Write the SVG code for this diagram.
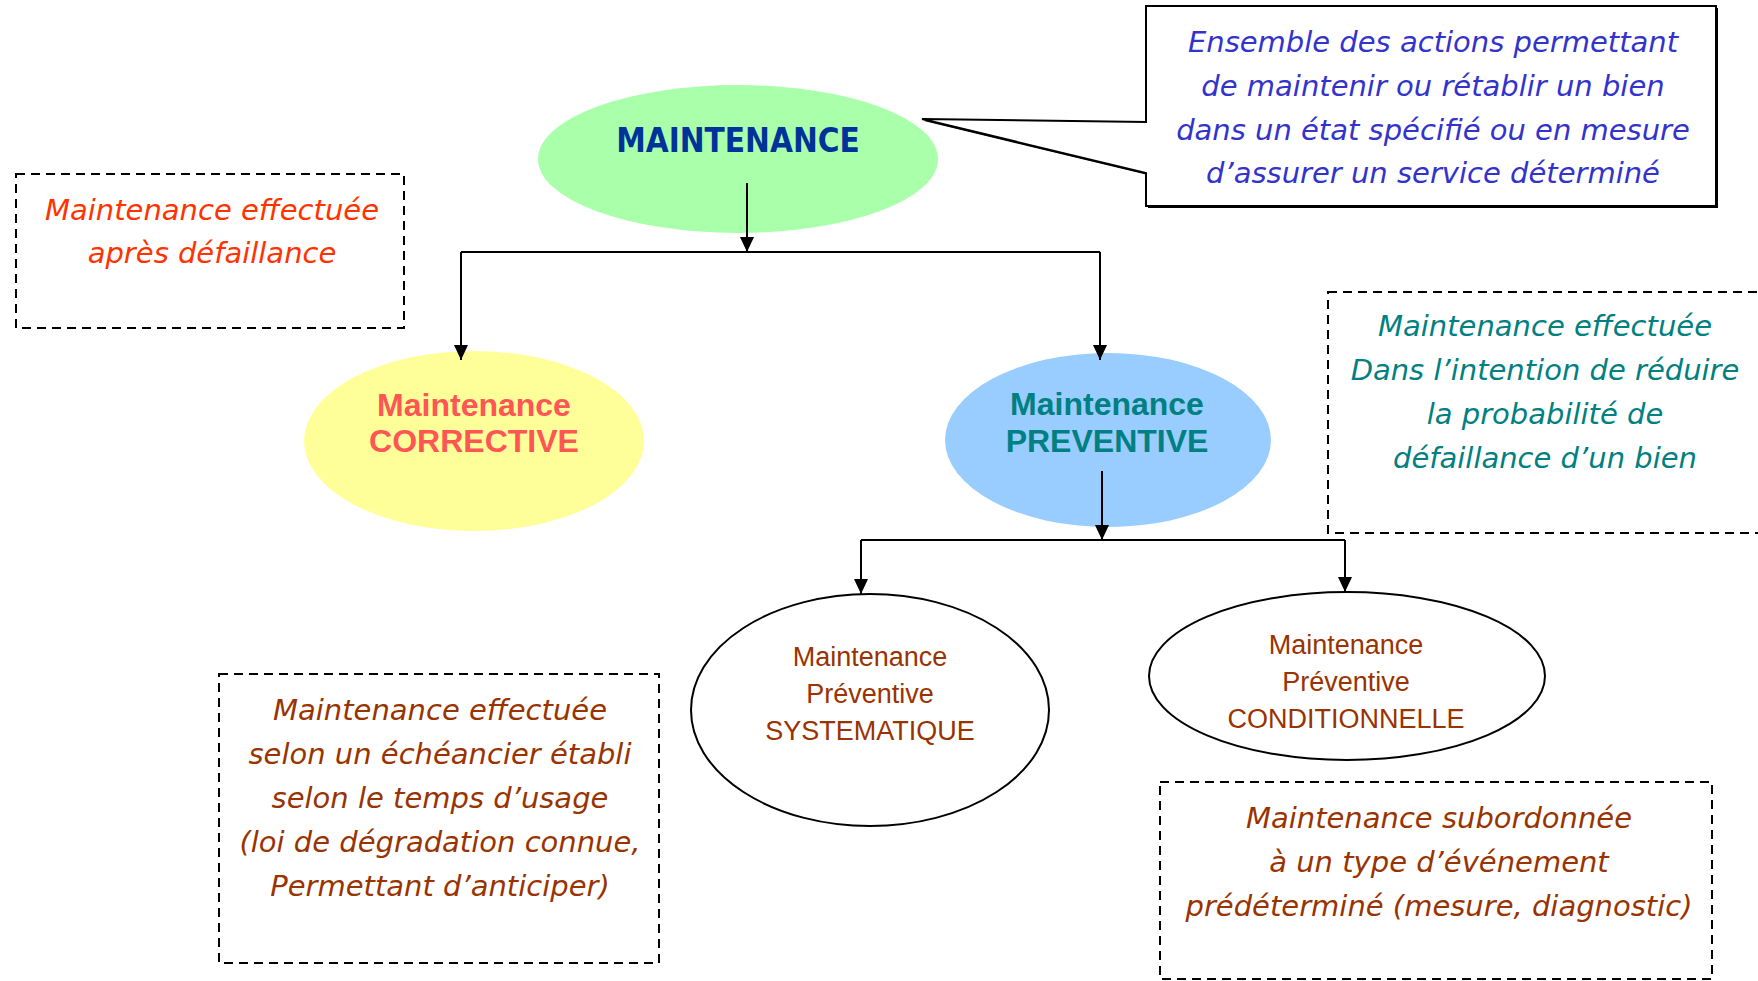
<svg xmlns="http://www.w3.org/2000/svg" width="1758" height="981" viewBox="0 0 1758 981">
<style>
.comic{font-family:"DejaVu Sans","Liberation Sans",sans-serif;font-style:italic;font-size:29px;text-anchor:middle}
.dash{fill:none;stroke:#000;stroke-width:2;stroke-dasharray:9,6}
.conn{fill:none;stroke:#000;stroke-width:2}
.bold{font-family:"Liberation Sans",Arial,sans-serif;font-weight:bold;font-size:32px;text-anchor:middle}
.sub{font-family:"Liberation Sans",Arial,sans-serif;font-size:27px;fill:#993300;text-anchor:middle}
</style>
<defs>
<marker id="arr" markerUnits="userSpaceOnUse" viewBox="0 0 15 14" markerWidth="15" markerHeight="14" refX="15" refY="7" orient="auto">
<path d="M0,0 L15,7 L0,14 z" fill="#000"/>
</marker>
</defs>
<rect width="1758" height="981" fill="#fff"/>

<g id="callout">
<path d="M1148,8 H1718 V208 H1148 V175 L924,121 L1148,124 Z" fill="#000"/>
<path d="M1146,6 H1716 V206 H1146 V173 L922,119 L1146,122 Z" fill="#fff" stroke="#000" stroke-width="2"/>
<g class="comic" fill="#3333cc">
<text x="1433" y="52">Ensemble des actions permettant</text>
<text x="1433" y="96">de maintenir ou rétablir un bien</text>
<text x="1433" y="140">dans un état spécifié ou en mesure</text>
<text x="1433" y="183">d’assurer un service déterminé</text>
</g>
</g>

<g id="maintenance">
<ellipse cx="738" cy="159" rx="200" ry="74" fill="#aaffaa"/>
<text x="738" y="152" font-family="DejaVu Sans Condensed,DejaVu Sans,sans-serif" font-stretch="condensed" font-weight="bold" font-size="33" fill="#003399" text-anchor="middle">MAINTENANCE</text>
</g>

<g id="note-corrective">
<rect x="16" y="174" width="388" height="154" class="dash"/>
<g class="comic" fill="#ff3300">
<text x="212" y="220">Maintenance effectuée</text>
<text x="212" y="263">après défaillance</text>
</g>
</g>

<g id="corrective">
<ellipse cx="474" cy="441" rx="170" ry="90" fill="#ffff99"/>
<text class="bold" x="474" y="416" fill="#ff5555">Maintenance</text>
<text class="bold" x="474" y="452" fill="#ff5555">CORRECTIVE</text>
</g>

<g id="preventive">
<ellipse cx="1108" cy="440" rx="163" ry="87" fill="#99ccff"/>
<text class="bold" x="1107" y="415" fill="#008080">Maintenance</text>
<text class="bold" x="1107" y="452" fill="#008080">PREVENTIVE</text>
</g>

<g id="note-preventive">
<rect x="1328" y="292" width="450" height="241" class="dash"/>
<g class="comic" fill="#008080">
<text x="1545" y="336">Maintenance effectuée</text>
<text x="1545" y="380">Dans l’intention de réduire</text>
<text x="1545" y="424">la probabilité de</text>
<text x="1545" y="468">défaillance d’un bien</text>
</g>
</g>

<g id="systematique">
<ellipse cx="870" cy="710" rx="179" ry="116" fill="#fff" stroke="#000" stroke-width="2"/>
<text class="sub" x="870" y="666">Maintenance</text>
<text class="sub" x="870" y="703">Préventive</text>
<text class="sub" x="870" y="740">SYSTEMATIQUE</text>
</g>

<g id="conditionnelle">
<ellipse cx="1347" cy="676" rx="198" ry="84" fill="#fff" stroke="#000" stroke-width="2"/>
<text class="sub" x="1346" y="654">Maintenance</text>
<text class="sub" x="1346" y="691">Préventive</text>
<text class="sub" x="1346" y="728">CONDITIONNELLE</text>
</g>

<g id="note-systematique">
<rect x="219" y="674" width="440" height="289" class="dash"/>
<g class="comic" fill="#993300">
<text x="440" y="720">Maintenance effectuée</text>
<text x="440" y="764">selon un échéancier établi</text>
<text x="440" y="808">selon le temps d’usage</text>
<text x="440" y="852">(loi de dégradation connue,</text>
<text x="440" y="896">Permettant d’anticiper)</text>
</g>
</g>

<g id="note-conditionnelle">
<rect x="1160" y="782" width="552" height="197" class="dash"/>
<g class="comic" fill="#993300">
<text x="1439" y="828">Maintenance subordonnée</text>
<text x="1439" y="872">à un type d’événement</text>
<text x="1439" y="916">prédéterminé (mesure, diagnostic)</text>
</g>
</g>

<g id="connectors">
<path class="conn" d="M747,183 V252" marker-end="url(#arr)"/>
<path class="conn" d="M461,252 H1100"/>
<path class="conn" d="M461,252 V360" marker-end="url(#arr)"/>
<path class="conn" d="M1100,252 V360" marker-end="url(#arr)"/>
<path class="conn" d="M1102,471 V540" marker-end="url(#arr)"/>
<path class="conn" d="M861,540 H1345"/>
<path class="conn" d="M861,540 V594" marker-end="url(#arr)"/>
<path class="conn" d="M1345,540 V592" marker-end="url(#arr)"/>
</g>
</svg>
